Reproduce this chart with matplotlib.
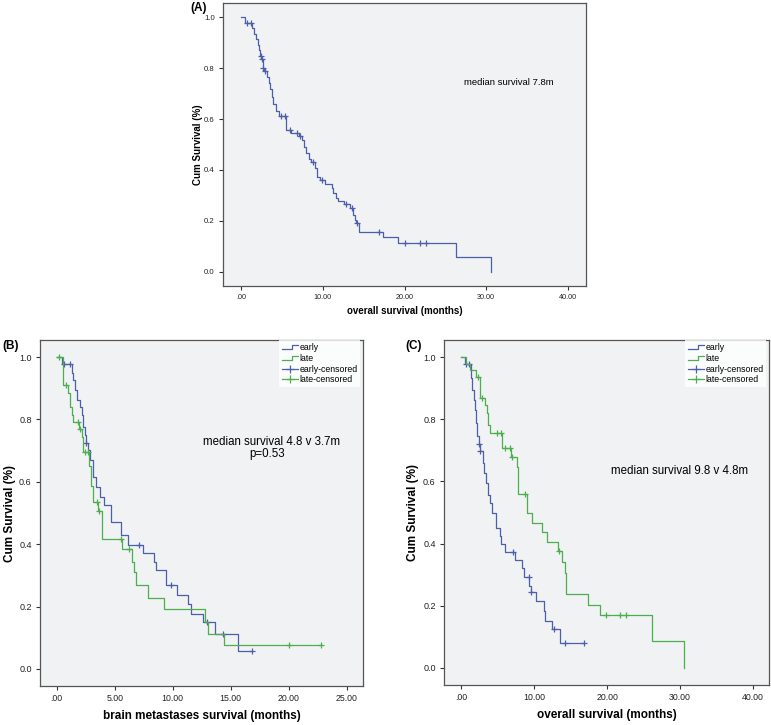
import numpy as np
import matplotlib.pyplot as plt
from matplotlib.lines import Line2D
from matplotlib.legend_handler import HandlerBase

plt.rcParams['font.family'] = ['Liberation Sans', 'DejaVu Sans']

# Panel A - overall survival, whole cohort (step times / survival after step)
a_time = [0, 0.49, 1.35, 1.6, 1.85, 2.1, 2.2, 2.3, 2.5, 2.65, 2.85, 3.2, 3.4, 3.55, 3.75,
          3.96, 4.29, 4.7, 5.5, 6.1, 7.1, 7.5, 7.7, 7.95, 8.3, 8.6, 9.06, 9.3, 9.67,
          10.3, 11.1, 11.3, 11.6, 11.9, 12.6, 13.35, 13.75, 13.96, 14.1, 14.45, 17.4,
          19.15, 26.3, 30.57]
a_surv = [1.0, 0.978, 0.957, 0.935, 0.913, 0.891, 0.87, 0.848, 0.835, 0.80, 0.788, 0.766,
          0.74, 0.716, 0.687, 0.659, 0.633, 0.612, 0.557, 0.546, 0.533, 0.518, 0.492,
          0.466, 0.442, 0.43, 0.407, 0.374, 0.359, 0.346, 0.329, 0.309, 0.29, 0.277,
          0.266, 0.25, 0.224, 0.205, 0.194, 0.157, 0.136, 0.113, 0.057, 0.0]
a_cens = [0.69, 1.18, 2.4, 2.57, 2.73, 2.98, 4.86, 5.43, 6.0, 6.9, 7.2, 8.8, 9.96,
          12.8, 13.55, 14.2, 16.85, 20.0, 21.84, 22.65]

# Panel B - brain metastases survival, early vs late
b_early_time = [0, 0.43, 1.29, 1.43, 1.58, 1.78, 2.01, 2.15, 2.29, 2.44, 2.5, 2.73, 2.87,
                3.16, 3.39, 3.73, 4.08, 4.7, 5.57, 6.15, 7.47, 8.42, 8.56, 9.42, 10.34,
                11.34, 11.55, 12.64, 13.65, 15.6]
b_early_surv = [1.0, 0.978, 0.948, 0.927, 0.895, 0.863, 0.841, 0.815, 0.777, 0.75, 0.724,
                0.702, 0.67, 0.616, 0.584, 0.552, 0.525, 0.471, 0.428, 0.398, 0.372,
                0.343, 0.318, 0.268, 0.236, 0.209, 0.177, 0.15, 0.112, 0.056]
b_early_cens = [0.66, 1.15, 2.53, 7.13, 9.83, 12.93, 14.3, 16.86]

b_late_time = [0, 0.52, 1.0, 1.15, 1.29, 1.44, 1.95, 2.15, 2.29, 2.8, 2.93, 3.16, 3.55,
               3.88, 5.6, 6.46, 6.67, 6.84, 7.84, 9.28, 12.78, 13.07, 14.4]
b_late_surv = [1.0, 0.911, 0.884, 0.841, 0.815, 0.793, 0.77, 0.745, 0.696, 0.65, 0.587,
               0.534, 0.507, 0.416, 0.383, 0.343, 0.311, 0.268, 0.228, 0.191, 0.15,
               0.113, 0.075]
b_late_cens = [0.2, 0.8, 1.81, 1.97, 2.44, 2.67, 3.45, 3.62, 5.5, 6.26, 20.05, 22.75]

# Panel C - overall survival, early vs late
c_early_time = [0, 0.5, 1.25, 1.5, 1.7, 1.9, 2.05, 2.2, 2.35, 2.55, 2.9, 3.1, 3.35, 3.6,
                3.9, 4.25, 4.7, 5.25, 5.5, 5.96, 7.33, 8.38, 8.56, 9.35, 9.5, 10.2, 11.3,
                11.5, 12.5, 13.5]
c_early_surv = [1.0, 0.978, 0.932, 0.895, 0.863, 0.83, 0.788, 0.745, 0.721, 0.697, 0.66,
                0.627, 0.595, 0.557, 0.53, 0.498, 0.45, 0.423, 0.40, 0.373, 0.348,
                0.321, 0.292, 0.265, 0.243, 0.215, 0.182, 0.15, 0.124, 0.08]
c_early_cens = [0.6, 1.0, 2.43, 2.61, 7.1, 9.25, 9.6, 12.7, 14.2, 16.86]

c_late_time = [0, 0.6, 1.2, 2.0, 2.5, 3.2, 3.5, 3.7, 3.95, 5.55, 6.85, 7.6, 7.8, 8.95,
               9.75, 11.1, 11.8, 13.3, 13.8, 14.2, 14.3, 17.4, 19.0, 26.2, 30.5]
c_late_surv = [1.0, 0.978, 0.957, 0.936, 0.87, 0.847, 0.82, 0.78, 0.755, 0.707, 0.68,
               0.648, 0.56, 0.498, 0.466, 0.436, 0.404, 0.375, 0.34, 0.306, 0.237,
               0.204, 0.17, 0.085, 0.0]
c_late_cens = [2.29, 2.88, 4.85, 5.45, 5.95, 6.64, 7.0, 8.8, 13.4, 19.9, 21.8, 22.6]

BLUE = '#4d5fa9'
GREEN = '#4cae4c'
BG = '#f0f2f4'


def km_plot(ax, time, surv, cens, color):
    time = list(time)
    surv = list(surv)
    if max(cens) > time[-1]:
        time.append(max(cens))
        surv.append(surv[-1])
    ax.step(time, surv, where='post', color=color, lw=0.9)
    idx = np.searchsorted(time, cens, side='right') - 1
    ax.plot(cens, np.array(surv)[idx], ls='none', marker='+', ms=5, mew=0.9, color=color)


class StepHandler(HandlerBase):
    def create_artists(self, legend, orig_handle, xdescent, ydescent, width, height,
                       fontsize, trans):
        x0, y0 = -xdescent, -ydescent
        xs = [x0, x0 + 0.6 * width, x0 + 0.6 * width, x0 + width]
        ys = [y0 + 0.1 * height, y0 + 0.1 * height, y0 + 0.8 * height, y0 + 0.8 * height]
        return [Line2D(xs, ys, color=orig_handle.get_color(), lw=0.9, transform=trans)]


def style_axes(ax, xlim, xticks, xlabel, fs_xtick, fs_ytick, fs_label, ylab_x, xlab_y):
    ax.set_facecolor(BG)
    ax.set_xlim(*xlim)
    ax.set_ylim(-0.055, 1.055)
    ax.set_xticks(xticks)
    ax.set_xticklabels(['.00' if t == 0 else f'{t:.2f}' for t in xticks])
    ax.set_yticks([0, 0.2, 0.4, 0.6, 0.8, 1.0])
    ax.set_yticklabels(['0.0', '0.2', '0.4', '0.6', '0.8', '1.0'])
    ax.tick_params(length=3, width=0.8, color='#333333', pad=3, labelcolor='#222222')
    ax.tick_params(axis='x', labelsize=fs_xtick)
    ax.tick_params(axis='y', labelsize=fs_ytick)
    for s in ax.spines.values():
        s.set_color('#555555')
        s.set_linewidth(0.9)
    ax.set_xlabel(xlabel, fontsize=fs_label, fontweight='bold')
    ax.set_ylabel('Cum Survival (%)', fontsize=fs_label, fontweight='bold')
    ax.yaxis.set_label_coords(ylab_x, 0.5)
    ax.xaxis.set_label_coords(0.5, xlab_y)


def add_legend(ax):
    h_early = Line2D([], [], color=BLUE, lw=0.9)
    h_late = Line2D([], [], color=GREEN, lw=0.9)
    h_ec = Line2D([], [], color=BLUE, lw=0.9, marker='+', ms=6, mew=0.9)
    h_lc = Line2D([], [], color=GREEN, lw=0.9, marker='+', ms=6, mew=0.9)
    leg = ax.legend([h_early, h_late, h_ec, h_lc],
                    ['early', 'late', 'early-censored', 'late-censored'],
                    handler_map={h_early: StepHandler(), h_late: StepHandler()},
                    loc='upper right', bbox_to_anchor=(0.992, 1.0), fontsize=6.3,
                    handlelength=1.8, handletextpad=0.15, labelspacing=0.2,
                    borderpad=0.35, numpoints=1, frameon=True, fancybox=False,
                    borderaxespad=0)
    leg.get_frame().set_facecolor('white')
    leg.get_frame().set_edgecolor('none')


fig = plt.figure(figsize=(7.71, 7.25), dpi=100)
W, H = 771, 725


def px_axes(l, t, r, b):
    return fig.add_axes([l / W, 1 - b / H, (r - l) / W, (b - t) / H])


# Panel A
axA = px_axes(223, 3, 586, 286)
km_plot(axA, a_time, a_surv, a_cens, BLUE)
style_axes(axA, (-2.2, 42.2), [0, 10, 20, 30, 40], 'overall survival (months)',
           5.2, 5.6, 7, -0.055, -0.071)
axA.text(32.7, 0.745, 'median survival 7.8m', ha='center', va='center', fontsize=6.8)

# Panel B
axB = px_axes(40, 340, 363, 686)
km_plot(axB, b_early_time, b_early_surv, b_early_cens, BLUE)
km_plot(axB, b_late_time, b_late_surv, b_late_cens, GREEN)
style_axes(axB, (-1.44, 26.4), [0, 5, 10, 15, 20, 25], 'brain metastases survival (months)',
           6.3, 6.5, 8.5, -0.074, -0.07)
add_legend(axB)
axB.text(18.5, 0.728, 'median survival 4.8 v 3.7m', ha='center', va='center', fontsize=8.3)
axB.text(18.1, 0.689, 'p=0.53', ha='center', va='center', fontsize=8.3)

# Panel C
axC = px_axes(444, 340, 769, 685)
km_plot(axC, c_early_time, c_early_surv, c_early_cens, BLUE)
km_plot(axC, c_late_time, c_late_surv, c_late_cens, GREEN)
style_axes(axC, (-2.39, 42.24), [0, 10, 20, 30, 40], 'overall survival (months)',
           6.3, 6.5, 8.5, -0.078, -0.07)
add_legend(axC)
axC.text(30.0, 0.635, 'median survival 9.8 v 4.8m', ha='center', va='center', fontsize=8.3)

fig.text(190 / W, 1 - 8 / H, '(A)', ha='left', va='center', fontsize=8.5, fontweight='bold')
fig.text(2 / W, 1 - 346 / H, '(B)', ha='left', va='center', fontsize=8.5, fontweight='bold')
fig.text(405 / W, 1 - 346 / H, '(C)', ha='left', va='center', fontsize=8.5, fontweight='bold')

fig.savefig('out.png', dpi=100, facecolor='white')
